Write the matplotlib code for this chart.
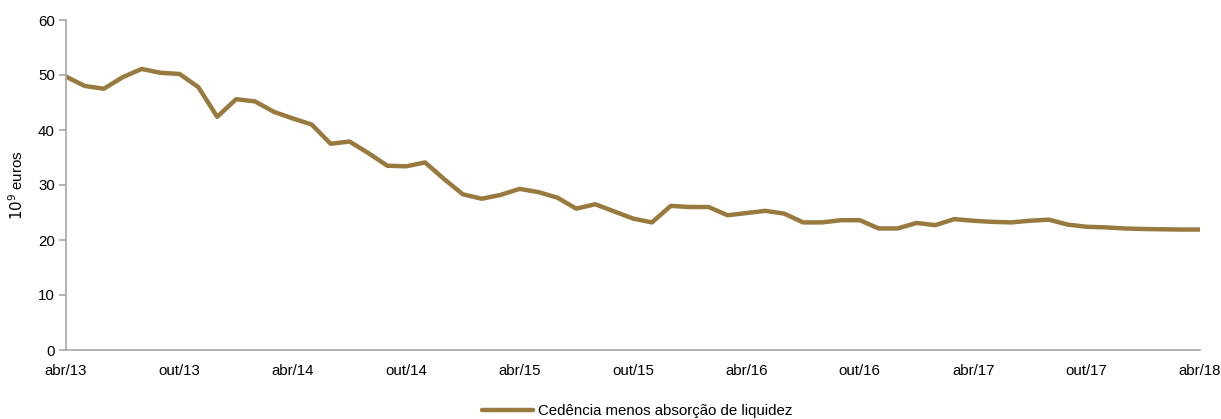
import numpy as np
import matplotlib
matplotlib.use("Agg")
import matplotlib.pyplot as plt
from matplotlib import font_manager

# pick a narrow sans if present
names = set(f.name for f in font_manager.fontManager.ttflist)
family = "Liberation Sans Narrow" if "Liberation Sans Narrow" in names else "Liberation Sans"
plt.rcParams["font.family"] = [family, "DejaVu Sans"]

# monthly, abr/13 .. abr/18
values = [49.7, 48.0, 47.5, 49.6, 51.1, 50.4, 50.2, 47.8, 42.4, 45.6,
          45.2, 43.3, 42.1, 41.0, 37.5, 37.9, 35.8, 33.5, 33.4, 34.1,
          31.1, 28.3, 27.5, 28.2, 29.3, 28.7, 27.7, 25.7, 26.5, 25.2,
          23.9, 23.2, 26.2, 26.0, 26.0, 24.5, 24.9, 25.3, 24.8, 23.2,
          23.2, 23.6, 23.6, 22.1, 22.1, 23.1, 22.7, 23.8, 23.5, 23.3,
          23.2, 23.5, 23.7, 22.8, 22.4, 22.3, 22.1, 22.0, 21.95, 21.9, 21.9]
tick_labels = ["abr/13", "out/13", "abr/14", "out/14", "abr/15", "out/15",
               "abr/16", "out/16", "abr/17", "out/17", "abr/18"]
series_name = "Cedência menos absorção de liquidez"

x = np.arange(len(values))
color = "#98793E"
grey = "#A6A6A6"
fs = 10.8

fig = plt.figure(figsize=(12.21, 4.19), dpi=100)
ax = fig.add_axes([66/1221, 69/419, 1134/1221, 330/419])
ax.plot(x, values, color=color, lw=3.2, solid_capstyle="round", label=series_name)

ax.set_xlim(0, 60)
ax.set_ylim(0, 60)
ax.set_yticks(range(0, 61, 10))
ax.set_xticks(range(0, 61, 6))
ax.set_xticklabels(tick_labels)

for s in ["top", "right"]:
    ax.spines[s].set_visible(False)
for s in ["left", "bottom"]:
    ax.spines[s].set_color(grey)
    ax.spines[s].set_linewidth(1.2)
ax.tick_params(axis="y", length=5, color=grey, width=1.2, labelsize=fs, pad=3)
ax.tick_params(axis="x", length=0, labelsize=fs, pad=10)

ax.set_ylabel("$10^9$ euros", fontsize=fs)
ax.yaxis.set_label_coords(-0.035, 0.5)

fig.legend(loc="lower center", bbox_to_anchor=(0.522, -0.03), frameon=False,
           fontsize=fs, handlelength=3.4, handletextpad=0.3)

fig.savefig("out.png", dpi=100)
